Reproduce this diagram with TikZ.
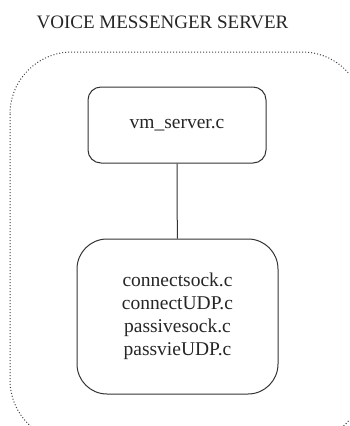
\documentclass[tikz,border=0pt]{standalone}
\usepackage{fontspec}
\setmainfont{Liberation Serif}
\usepackage{tikz}
\usetikzlibrary{positioning}

\begin{document}
\begin{tikzpicture}[x=1pt,y=-1pt,
  filebox/.style={draw=black!80,line width=1pt,align=center,text=black!85,
    font=\fontsize{19.5}{23}\selectfont}]
\useasboundingbox (0,0) rectangle (349,426);
\clip (0,0) rectangle (349,426);
\node[text=black!85,font=\fontsize{19}{23}\selectfont] (title) at (162.5,22) {VOICE MESSENGER SERVER};
\draw[black!75,dotted,line width=1pt,rounded corners=62] (10,52) rectangle (364,442);
%top file
\node[filebox,rounded corners=13,minimum width=178,minimum height=76] (server) at (177,125) {vm\_server.c};
%bottom files
\node[filebox,rounded corners=30,minimum width=201,minimum height=155] (socks) at (177.5,316.5)
  {connectsock.c\\connectUDP.c\\passivesock.c\\passvieUDP.c};
\draw[black!80,line width=1pt] (server) -- (socks);
\end{tikzpicture}
\end{document}
